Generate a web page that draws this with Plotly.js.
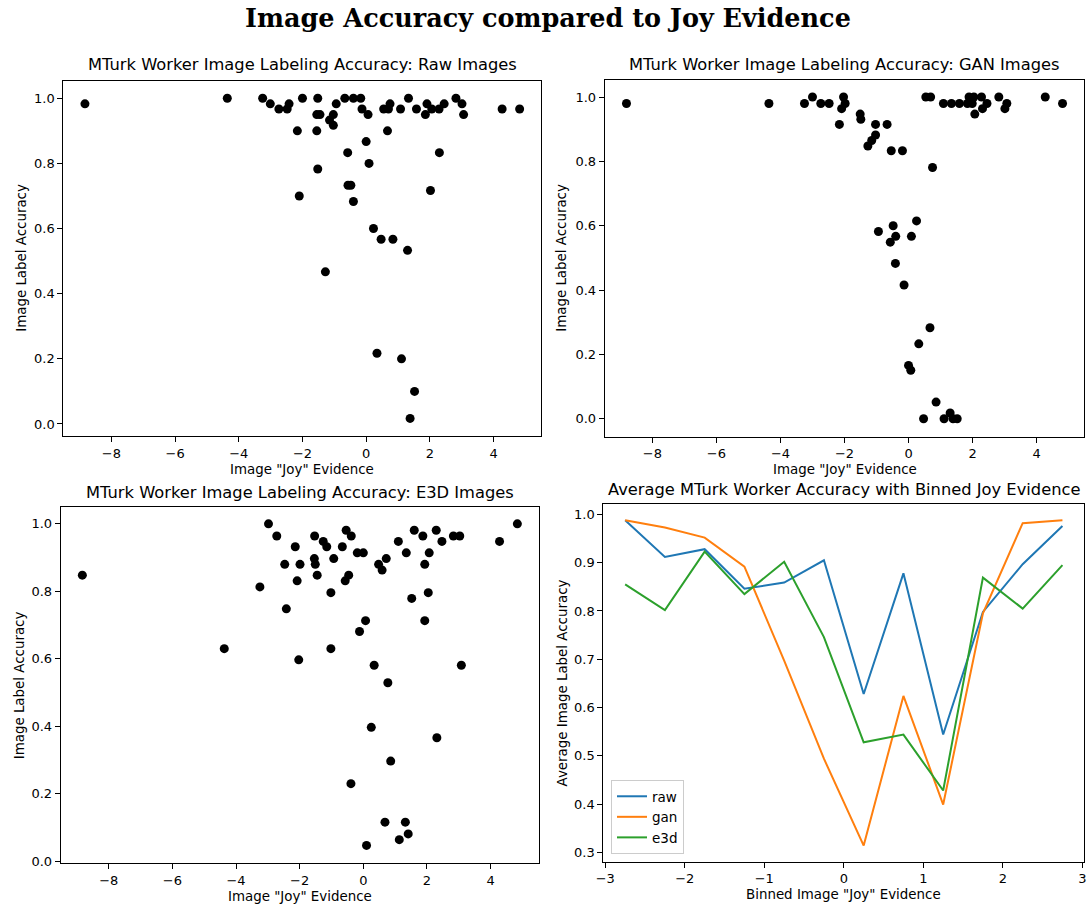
<!DOCTYPE html>
<html>
<head>
<meta charset="utf-8">
<script src="https://cdn.plot.ly/plotly-3.0.1.min.js"></script>
<style>html,body{margin:0;padding:0;background:#fff;}#chart{width:1088px;height:907px;}</style>
</head>
<body>
<div id="chart"></div>
<script>
// ---- Data ----
const rawX = [-8.83,-4.36,-3.25,-3.01,-2.74,-2.48,-2.42,-2.00,-1.52,-1.55,-1.45,-2.16,-1.55,-1.15,-1.03,-1.03,-0.94,-0.67,-0.40,-0.17,-0.13,0.06,0.00,-0.58,0.09,-1.52,-0.57,-0.48,-2.10,-0.40,0.55,0.70,0.75,0.67,1.08,1.33,1.58,1.86,1.91,2.06,2.29,2.45,2.82,3.01,3.06,4.27,4.82,2.30,2.02,0.23,0.47,0.84,1.30,-1.28,0.34,1.11,1.52,1.38];
const rawY = [0.983,1,1,0.983,0.967,0.967,0.983,1,1,0.95,0.95,0.9,0.9,0.933,0.95,0.917,0.983,1,1,1,0.967,0.95,0.867,0.833,0.8,0.783,0.733,0.733,0.7,0.683,0.967,0.967,0.983,0.9,0.967,1,0.967,0.95,0.983,0.967,0.967,0.983,1,0.983,0.95,0.967,0.967,0.833,0.717,0.6,0.567,0.567,0.533,0.467,0.217,0.2,0.1,0.017];

const ganX = [-8.81,-4.36,-3.25,-3.00,-2.74,-2.48,-2.03,-1.98,-2.09,-2.16,-1.51,-1.49,-1.03,-0.67,-1.03,-1.15,-1.27,-0.54,-0.19,0.75,0.25,-0.48,-0.94,-0.40,0.09,-0.57,-0.41,-0.14,0.67,0.32,0.00,0.07,0.86,0.47,1.11,1.30,1.39,1.52,0.54,0.69,1.09,1.34,1.59,1.84,1.89,2.04,2.28,1.99,2.45,2.31,2.07,2.82,3.07,3.01,4.27,4.81];
const ganY = [0.98,0.98,0.98,1,0.98,0.98,1,0.98,0.964,0.915,0.947,0.931,0.915,0.915,0.882,0.865,0.848,0.833,0.833,0.781,0.615,0.6,0.582,0.567,0.567,0.549,0.483,0.416,0.283,0.233,0.166,0.151,0.052,0,0,0.018,0,0,1,1,0.98,0.98,0.98,0.98,1,1,1,0.98,0.98,0.964,0.947,1,0.98,0.964,1,0.98];

const e3dX = [-8.83,-4.37,-3.25,-2.98,-2.72,-2.47,-2.42,-2.14,-1.99,-2.08,-2.03,-1.53,-1.54,-1.51,-1.45,-1.26,-1.15,-0.93,-1.02,-1.02,-0.66,-0.54,-0.38,-0.46,-0.57,-0.19,0.00,0.07,-0.12,0.34,0.77,0.25,-0.39,0.86,0.68,1.32,1.41,1.13,0.10,0.48,0.59,0.72,1.10,1.35,1.60,1.87,1.52,1.93,2.07,2.04,1.93,2.31,2.29,2.47,2.83,3.03,3.08,4.28,4.84];
const e3dY = [0.848,0.63,0.813,1,0.964,0.88,0.748,0.932,0.88,0.831,0.597,0.964,0.897,0.88,0.848,0.948,0.932,0.897,0.796,0.63,0.932,0.981,0.964,0.848,0.831,0.914,0.914,0.713,0.681,0.581,0.529,0.397,0.23,0.297,0.116,0.116,0.081,0.064,0.047,0.88,0.863,0.897,0.948,0.914,0.981,0.964,0.779,0.88,0.914,0.796,0.713,0.366,0.981,0.948,0.964,0.964,0.581,0.948,1];

const binCenters = [-2.75,-2.25,-1.75,-1.25,-0.75,-0.25,0.25,0.75,1.25,1.75,2.25,2.75];
const avgRaw = [0.988,0.912,0.928,0.846,0.859,0.905,0.628,0.878,0.544,0.798,0.897,0.976];
const avgGan = [0.988,0.973,0.952,0.892,0.697,0.494,0.314,0.624,0.399,0.795,0.982,0.988];
const avgE3d = [0.855,0.802,0.923,0.835,0.902,0.746,0.528,0.544,0.428,0.869,0.805,0.895];

const seriesNames = ['raw','gan','e3d'];
const seriesColors = ['#1f77b4','#ff7f0e','#2ca02c'];

// ---- Styling ----
const FONT = 'DejaVu Sans';
const W = 1088, H = 907;
const fx = p => p / W;
const fy = p => 1 - p / H;

const marker = {color:'#000', size:9};
const scatter = (x, y, xa, ya) => ({x, y, xaxis:xa, yaxis:ya, type:'scatter', mode:'markers', marker, showlegend:false, hoverinfo:'x+y'});

const traces = [
  scatter(rawX, rawY, 'x', 'y'),
  scatter(ganX, ganY, 'x2', 'y2'),
  scatter(e3dX, e3dY, 'x3', 'y3'),
  {x:binCenters, y:avgRaw, xaxis:'x4', yaxis:'y4', type:'scatter', mode:'lines', name:seriesNames[0], line:{color:seriesColors[0], width:2}},
  {x:binCenters, y:avgGan, xaxis:'x4', yaxis:'y4', type:'scatter', mode:'lines', name:seriesNames[1], line:{color:seriesColors[1], width:2}},
  {x:binCenters, y:avgE3d, xaxis:'x4', yaxis:'y4', type:'scatter', mode:'lines', name:seriesNames[2], line:{color:seriesColors[2], width:2}}
];

function ax(domain, range, dtick, fmt, anchor) {
  return {
    domain, range, dtick, tick0: 0, tickformat: fmt, anchor,
    showline: true, mirror: true, linecolor: '#000', linewidth: 1,
    ticks: 'outside', ticklen: 5, tickwidth: 1, tickcolor: '#000',
    showgrid: false, zeroline: false,
    tickfont: {family: FONT, size: 13, color: '#000'}
  };
}

const layout = {
  width: W, height: H,
  margin: {l:0, r:0, t:0, b:0},
  paper_bgcolor: '#fff', plot_bgcolor: '#fff',
  font: {family: FONT, color: '#000'},
  xaxis:  ax([fx(63.3), fx(541.3)], [-9.51, 5.50], 2, 'd', 'y'),
  yaxis:  ax([fy(436), fy(80.7)], [-0.037, 1.054], 0.2, '.1f', 'x'),
  xaxis2: ax([fx(604.7), fx(1084.3)], [-9.49, 5.49], 2, 'd', 'y2'),
  yaxis2: ax([fy(436.5), fy(80)], [-0.055, 1.053], 0.2, '.1f', 'x2'),
  xaxis3: ax([fx(60.7), fx(539)], [-9.51, 5.52], 2, 'd', 'y3'),
  yaxis3: ax([fy(863.3), fy(507.3)], [-0.006, 1.049], 0.2, '.1f', 'x3'),
  xaxis4: ax([fx(603.3), fx(1084.3)], [-3.025, 3.025], 1, 'd', 'y4'),
  yaxis4: ax([fy(861.5), fy(504.3)], [0.281, 1.021], 0.1, '.1f', 'x4'),
  showlegend: true,
  legend: {
    x: fx(611), y: fy(854), xanchor: 'left', yanchor: 'bottom',
    bgcolor: 'rgba(255,255,255,0.8)', bordercolor: '#cccccc', borderwidth: 1,
    font: {family: FONT, size: 13.5, color: '#000'}
  },
  annotations: []
};

function note(text, x, y, size, extra) {
  layout.annotations.push(Object.assign({
    text, x, y, xref: 'paper', yref: 'paper', showarrow: false,
    xanchor: 'center', yanchor: 'middle',
    font: {family: FONT, size, color: '#000'}
  }, extra || {}));
}

note('Image Accuracy compared to Joy Evidence', 0.5037, fy(18), 25.5,
     {font: {family: 'DejaVu Serif', size: 25.5, color: '#000', weight: 'bold'}});

note('MTurk Worker Image Labeling Accuracy: Raw Images', fx(302.3), fy(65), 16.3);
note('MTurk Worker Image Labeling Accuracy: GAN Images', fx(844.5), fy(65), 16.3);
note('MTurk Worker Image Labeling Accuracy: E3D Images', fx(299.9), fy(492), 16.3);
note('Average MTurk Worker Accuracy with Binned Joy Evidence', fx(843.8), fy(489), 16.3);

note('Image "Joy" Evidence', fx(302.3), fy(469), 13.4);
note('Image "Joy" Evidence', fx(844.5), fy(469), 13.4);
note('Image "Joy" Evidence', fx(299.9), fy(896), 13.4);
note('Binned Image "Joy" Evidence', fx(843.8), fy(894), 13.4);

note('Image Label Accuracy', fx(21.5), fy(258.3), 13.4, {textangle: -90});
note('Image Label Accuracy', fx(561.5), fy(258.3), 13.4, {textangle: -90});
note('Image Label Accuracy', fx(19), fy(685.3), 13.4, {textangle: -90});
note('Average Image Label Accuracy', fx(561.5), fy(683), 13.4, {textangle: -90});

Plotly.newPlot('chart', traces, layout, {displayModeBar: false, responsive: false});
</script>
</body>
</html>
